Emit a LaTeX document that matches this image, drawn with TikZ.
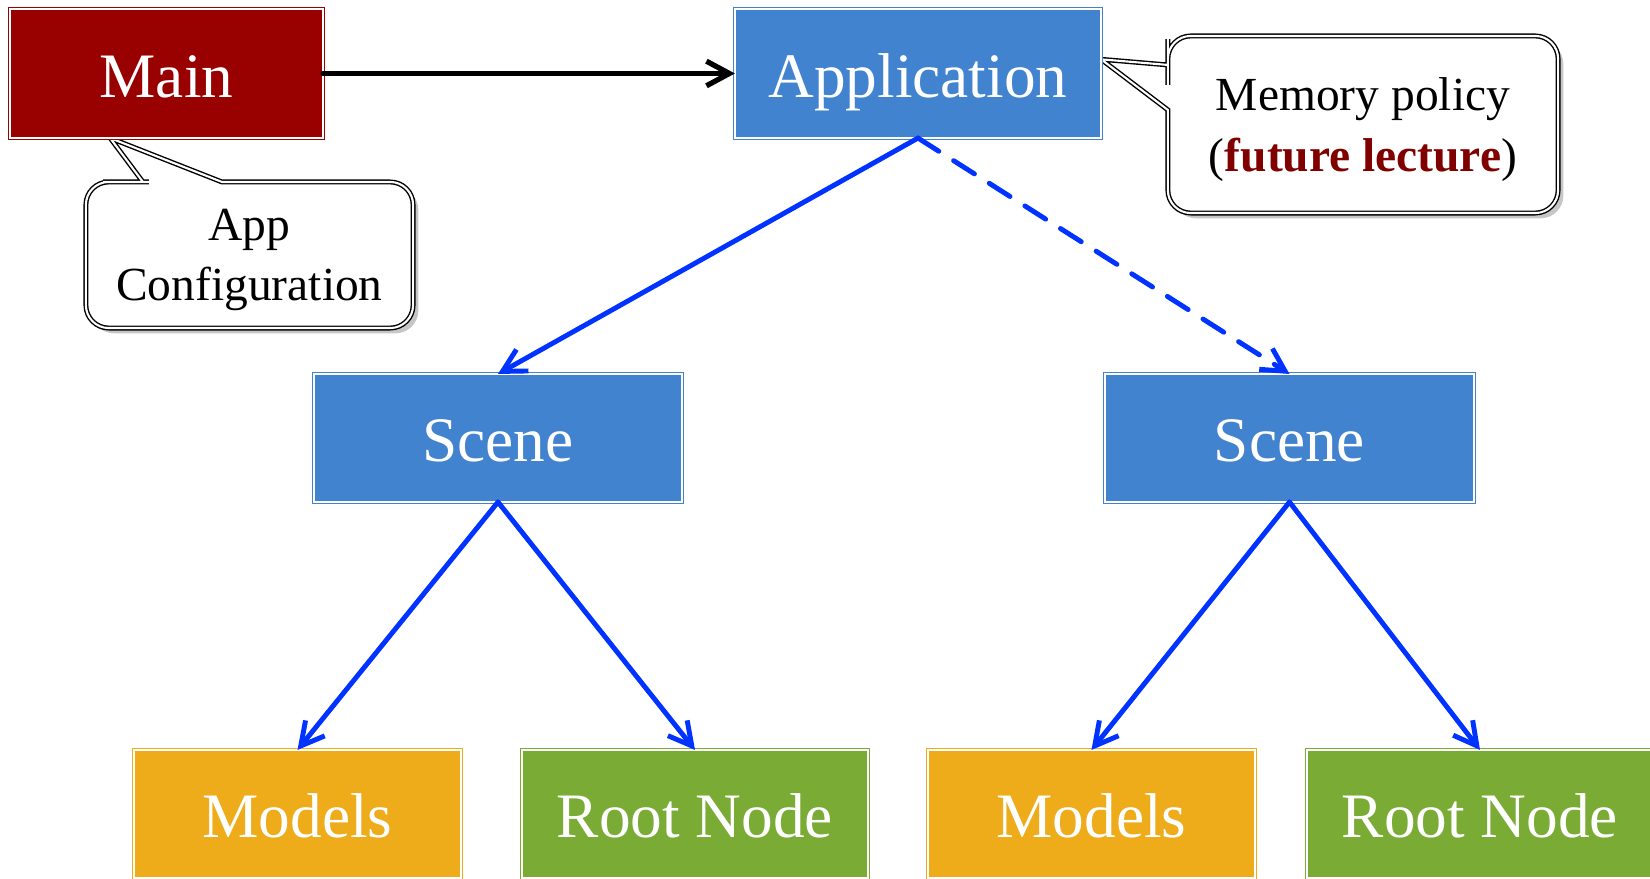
\documentclass[tikz,border=0pt]{standalone}
\usepackage{fontspec}
\setmainfont{Liberation Serif}
\usetikzlibrary{arrows.meta,calc,shadows,backgrounds}
\definecolor{mainred}{HTML}{990000}
\definecolor{appblue}{HTML}{4283CF}
\definecolor{modelorange}{HTML}{EEAB1A}
\definecolor{rootgreen}{HTML}{7AAC35}
\definecolor{linkblue}{HTML}{0033FF}
\definecolor{notered}{HTML}{800000}

\begin{document}
\begin{tikzpicture}[x=0.01cm, y=-0.01cm,
    box/.style={draw=#1, fill=#1, double=white, double distance=0.6pt, line width=0.3pt,
        text=white, font=\fontsize{18}{22}\selectfont, text height=13.4pt, text depth=0pt,
        inner sep=0pt, outer sep=0pt},
    toprow/.style={box=#1, minimum height=1.29cm},
    midrow/.style={box=#1, minimum height=1.28cm, minimum width=3.68cm},
    lowrow/.style={box=#1, minimum height=1.28cm},
    notetext/.style={inner sep=0pt, outer sep=0pt, align=center, text depth=0pt,
        font=\fontsize{13.5}{17.2}\selectfont},
    bubble/.style={draw=black, fill=white, double=white, double distance=0.6pt,
        line width=0.4pt, drop shadow={opacity=0.45, shadow xshift=1.5pt, shadow yshift=-1.5pt}},
    link/.style={line width=1.5pt, line cap=round, -{Straight Barb[length=6.5pt,width=7pt]}},
    tree/.style={link, draw=linkblue, line width=1.4pt}]
  \useasboundingbox (0,0) rectangle (1650,879);

  \node[toprow=mainred, minimum width=3.13cm] (main) at (166.5,73.5) {Main};
  \node[toprow=appblue, minimum width=3.66cm] (app) at (918,73.5) {Application};
  \node[midrow=appblue] (sceneL) at (498,438) {Scene};
  \node[midrow=appblue] (sceneR) at (1289.5,438) {Scene};
  \node[lowrow=modelorange, minimum width=3.27cm] (modelsL) at (297.5,814) {Models};
  \node[lowrow=rootgreen, minimum width=3.46cm] (rootL) at (695,814) {Root Node};
  \node[lowrow=modelorange, minimum width=3.27cm] (modelsR) at (1091.5,814) {Models};
  \node[lowrow=rootgreen, minimum width=3.46cm] (rootR) at (1480,814) {Root Node};

  \draw[link] (main) -- (app);
  \draw[tree] (app.south) -- (sceneL.north);
  \draw[tree, dash pattern=on 7pt off 5pt] (app.south) -- (sceneR.north);
  \draw[tree] (sceneL.south) -- (modelsL.north);
  \draw[tree] (sceneL.south) -- (rootL.north);
  \draw[tree] (sceneR.south) -- (modelsR.north);
  \draw[tree] (sceneR.south) -- (rootR.north);

  \node[notetext, minimum width=3.27cm, minimum height=1.46cm] (cfg) at (249.5,255) {App\\Configuration};
  \node[notetext, minimum width=3.90cm, minimum height=1.77cm] (mem) at (1363,124.5)
    {Memory policy\\(\textbf{\textcolor{notered}{future lecture}})};
  \coordinate (cfgtip) at ($(main.south west)!0.32!(main.south east)$);
  \coordinate (memtip) at ($(app.north east)!0.39!(app.south east)$);

  \begin{pgfonlayer}{background}
    \draw[bubble] ($(cfg.north west)+(136,0)$) -- (cfg.north) [rounded corners=6.5pt] -- (cfg.north east)
      -- (cfg.south east) -- (cfg.south west) -- (cfg.north west) -- ($(cfg.north west)+(40,0)$)
      [sharp corners] -- ($(cfg.north west)+(57,0)$) -- (cfgtip) -- cycle;
    \draw[bubble] ($(mem.north west)+(0,74)$) -- (mem.west) [rounded corners=6.5pt] -- (mem.south west)
      -- (mem.south east) -- (mem.north east) -- (mem.north west) -- ($(mem.north west)+(0,26)$)
      [sharp corners] -- ($(mem.north west)+(0,29)$) -- (memtip) -- cycle;
  \end{pgfonlayer}
\end{tikzpicture}
\end{document}
